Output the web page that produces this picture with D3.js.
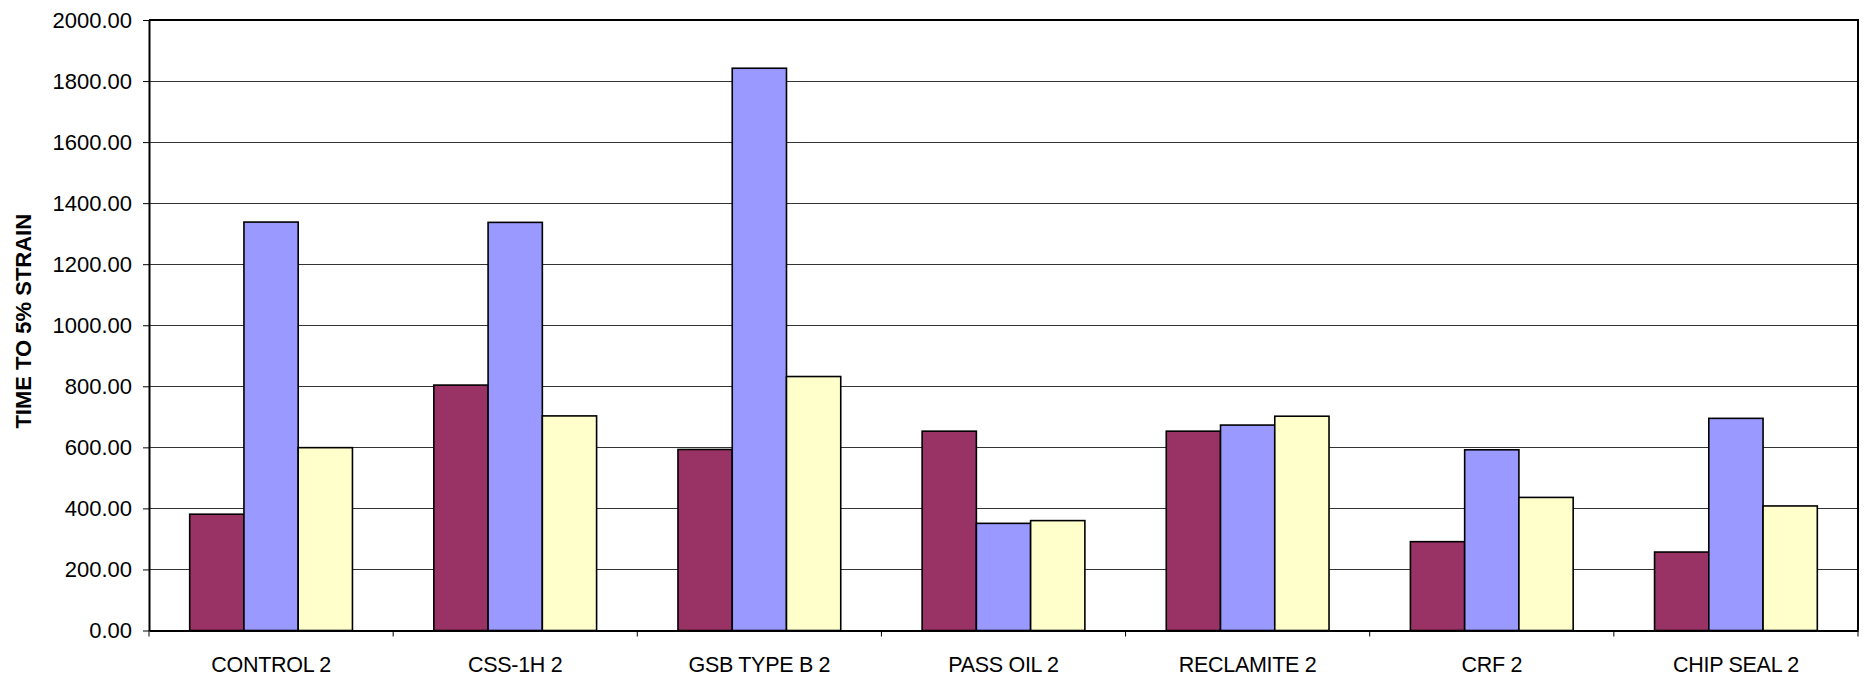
<!DOCTYPE html>
<html>
<head>
<meta charset="utf-8">
<script src="https://cdn.jsdelivr.net/npm/d3@7"></script>
<style>
html, body { margin: 0; padding: 0; background: #fff; }
svg { display: block; }
text { font-family: "Liberation Sans", Arial, sans-serif; fill: #000; }
</style>
</head>
<body>
<svg id="chart" width="1870" height="678"></svg>
<script>
const categories = ["CONTROL 2", "CSS-1H 2", "GSB TYPE B 2", "PASS OIL 2", "RECLAMITE 2", "CRF 2", "CHIP SEAL 2"];
const seriesNames = ["Series 1", "Series 2", "Series 3"];
const series1 = [381, 804, 593, 653, 653, 291, 257];
const series2 = [1338, 1337, 1842, 351, 673, 592, 695];
const series3 = [599, 703, 832, 360, 702, 436, 408];
const seriesColors = ["#993366", "#9999FF", "#FFFFCC"];
const yTicks = [0, 200, 400, 600, 800, 1000, 1200, 1400, 1600, 1800, 2000];
const yTitle = "TIME TO 5% STRAIN";

const allSeries = [series1, series2, series3];
const svg = d3.select("#chart");
const pLeft = 149, pRight = 1858, pTop = 20, pBottom = 630.5;

const x0 = d3.scaleBand().domain(categories).range([pLeft, pRight]).padding(0);
const x1 = d3.scaleBand().domain(seriesNames).range([0, x0.bandwidth()]).paddingInner(0).paddingOuter(0.75);
const y = d3.scaleLinear().domain([0, 2000]).range([pBottom, pTop]);

// gridlines
svg.append("g").selectAll("line").data(yTicks.filter(d => d > 0)).join("line")
  .attr("x1", pLeft).attr("x2", pRight)
  .attr("y1", d => Math.round(y(d)) + 0.5).attr("y2", d => Math.round(y(d)) + 0.5)
  .attr("stroke", "#333").attr("stroke-width", 1);

// bars
const groups = svg.append("g").selectAll("g").data(categories).join("g")
  .attr("transform", c => `translate(${x0(c)},0)`);
groups.selectAll("rect").data((c, i) => seriesNames.map((s, j) => ({ s, v: allSeries[j][i], j })))
  .join("rect")
  .attr("x", d => x1(d.s))
  .attr("width", x1.bandwidth())
  .attr("y", d => y(d.v))
  .attr("height", d => y(0) - y(d.v))
  .attr("fill", d => seriesColors[d.j])
  .attr("stroke", "#000")
  .attr("stroke-width", 1.6);

// plot frame (top and right)
svg.append("path")
  .attr("d", `M${pLeft},${pTop}H${pRight}V${pBottom}`)
  .attr("fill", "none").attr("stroke", "#000").attr("stroke-width", 2);

// y axis
const yAxis = d3.axisLeft(y).tickValues(yTicks).tickFormat(d3.format(".2f")).tickSizeInner(6).tickSizeOuter(0).tickPadding(11);
const gy = svg.append("g").attr("transform", `translate(${pLeft},0)`).call(yAxis);
gy.select(".domain").attr("stroke", "#000").attr("stroke-width", 2);
gy.selectAll(".tick line").attr("stroke", "#000").attr("stroke-width", 1);
gy.selectAll(".tick text").style("font-size", "22px").style("font-family", "'Liberation Sans', Arial, sans-serif").attr("fill", "#000");

// x axis
const xAxis = d3.axisBottom(x0).tickSize(0).tickSizeOuter(0).tickPadding(26);
const gx = svg.append("g").attr("transform", `translate(0,${pBottom})`).call(xAxis);
gx.select(".domain").attr("stroke", "#000").attr("stroke-width", 2);
gx.selectAll(".tick text").style("font-size", "21.5px").style("font-family", "'Liberation Sans', Arial, sans-serif").attr("fill", "#000").attr("letter-spacing", "-0.3px");
// category boundary tick marks
const bounds = categories.map(c => x0(c)).concat([x0(categories[categories.length - 1]) + x0.bandwidth()]);
gx.append("g").selectAll("line").data(bounds).join("line")
  .attr("x1", d => d).attr("x2", d => d).attr("y1", 0).attr("y2", 6)
  .attr("stroke", "#000").attr("stroke-width", 1);

// y title
svg.append("text")
  .attr("transform", `translate(31,${(pTop + pBottom) / 2 - 4}) rotate(-90)`)
  .attr("text-anchor", "middle")
  .style("font-size", "22px").style("font-weight", "bold")
  .text(yTitle);
</script>
</body>
</html>
